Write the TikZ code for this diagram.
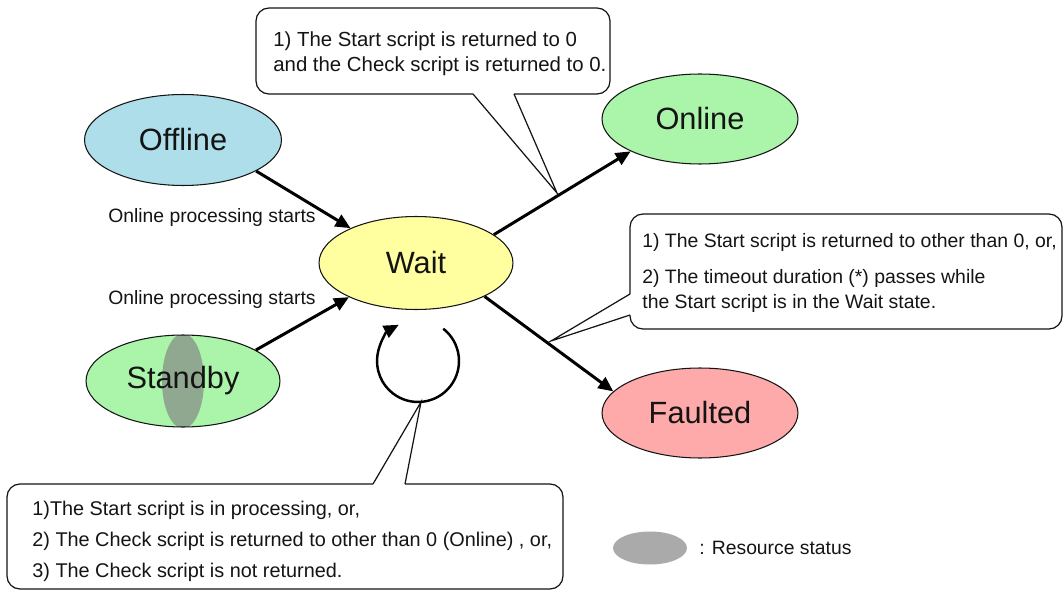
\documentclass[tikz,border=0pt]{standalone}
\usepackage{fontspec}
\setmainfont{Liberation Sans}
\usetikzlibrary{arrows.meta,shapes.geometric,calc}
\definecolor{SdOffline}{RGB}{174,222,234}
\definecolor{SdOnline}{RGB}{170,245,170}
\definecolor{SdWait}{RGB}{255,255,160}
\definecolor{SdFaulted}{RGB}{255,170,170}
\definecolor{SdRes}{RGB}{170,170,170}
\definecolor{SdResOn}{RGB}{143,168,143}
\definecolor{SdInk}{RGB}{20,20,20}
\tikzset{
  sd/state/.style={
    ellipse,
    draw=SdInk,
    line width=0.6pt,
    inner sep=0pt,
    text=SdInk,
    minimum width=3.92cm,
    minimum height=1.8cm,
    font=\fontsize{17.5}{21}\selectfont
  },
  sd/arrow/.style={-{Triangle[length=8.5pt,width=7.5pt]}, line width=1.7pt, draw=black},
  sd/callout/.style={draw=SdInk, line width=0.7pt, rounded corners=0.26cm},
  sd/pointer/.style={draw=SdInk, line width=0.7pt},
  sd/note/.style={align=left, inner sep=0pt, anchor=west, text=SdInk, font=\fontsize{11.6}{14.2}\selectfont},
  sd/label/.style={inner sep=0pt, text=SdInk, font=\fontsize{11}{13}\selectfont}
}

\begin{document}
\begin{tikzpicture}[x=0.02cm,y=0.02cm]
  \useasboundingbox (0,0) rectangle (1064,-591);
  % callouts
  \draw[sd/callout] (514,-94) -- (610,-94) -- (610,-8) -- (256,-8) -- (256,-94) -- (473,-94);
  \draw[sd/pointer] (473,-94) -- (557,-193) -- (514,-94);
  \node[sd/note] (noteonline) at (273,-53.5) {1) The Start script is returned to 0\\and the Check script is returned to 0.};
  \draw[sd/callout] (630,-315) -- (630,-329) -- (1062,-329) -- (1062,-214) -- (630,-214) -- (630,-294);
  \draw[sd/pointer] (630,-294) -- (551,-341) -- (630,-315);
  \node[sd/note,font=\fontsize{11.05}{14.7}\selectfont] (notefaulted) at (642,-273) {1) The Start script is returned to other than 0, or,\\[5.7pt]2) The timeout duration (*) passes while\\the Start script is in the Wait state.};
  \draw[sd/callout] (405,-484) -- (563,-484) -- (563,-589) -- (7,-589) -- (7,-484) -- (373,-484);
  \draw[sd/pointer] (373,-484) -- (421,-402) -- (405,-484);
  \node[sd/note,font=\fontsize{11.3}{17.6}\selectfont] (notewait) at (32,-541) {1)The Start script is in processing, or,\\2) The Check script is returned to other than 0 (Online) , or,\\3) The Check script is not returned.};
  % states
  \node[sd/state,fill=SdOffline,minimum width=3.94cm,minimum height=1.82cm] (offline) at (183,-140) {Offline};
  \node[sd/state,fill=SdOnline] (online) at (700,-119) {Online};
  \node[sd/state,fill=SdWait,minimum width=3.88cm,minimum height=1.86cm] (wait) at (416,-263) {Wait};
  \node[sd/state,fill=SdOnline,minimum width=3.88cm,minimum height=1.84cm,
    path picture={\fill[SdResOn] (path picture bounding box.center) ellipse [x radius=0.42cm, y radius=0.95cm];}] (standby) at (183,-381) {Standby};
  \node[sd/state,fill=SdFaulted] (faulted) at (700,-413) {Faulted};
  % transitions
  \draw[sd/arrow] (offline.-23) -- (wait.152);
  \draw[sd/arrow] (standby.23) -- (wait.-153);
  \draw[sd/arrow] (wait.20) -- (online.-155);
  \draw[sd/arrow] (wait.-26) -- (faulted.166);
  \coordinate (waitloop) at (418,-361);
  \draw[sd/arrow,line width=1.4pt] ($(waitloop)+(52:0.82cm)$) arc (52:-242:0.82cm);
  \node[sd/label] (lbloffline) at (212,-218) {Online processing starts};
  \node[sd/label] (lblstandby) at (212,-300) {Online processing starts};
  % legend
  \node[ellipse,fill=SdRes,inner sep=0pt,minimum width=1.48cm,minimum height=0.66cm] (legres) at (650,-548) {};
  \node[sd/label,anchor=west] (legtxt) at (699,-548) {: Resource status};
\end{tikzpicture}
\end{document}
